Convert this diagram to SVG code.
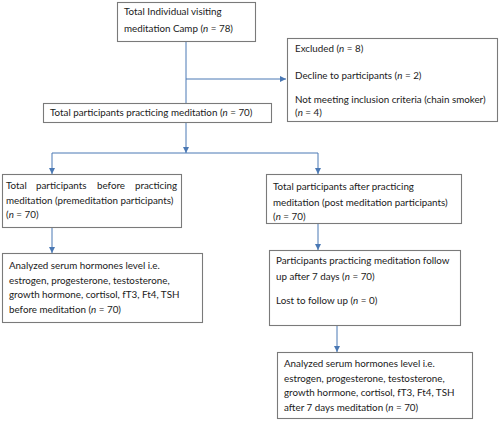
<svg xmlns="http://www.w3.org/2000/svg" width="500" height="421" viewBox="0 0 500 421">
<defs>
<marker id="ah" viewBox="0 0 6 6" refX="6" refY="3" markerWidth="6" markerHeight="6" markerUnits="userSpaceOnUse" orient="auto">
<path d="M0,0 L6,3 L0,6 z" fill="#4a78b4"/>
</marker>
<style>
.box{fill:#fff;stroke:#7a7a7a;stroke-width:1.1}
.t{font-family:Lato,"Liberation Sans",Arial,sans-serif;font-size:9.8px;fill:#1a1a1a}
.c{fill:none;stroke:#4a78b4;stroke-width:1}
.a{marker-end:url(#ah)}
</style>
</defs>
<rect width="500" height="421" fill="#fff"/>
<g id="connectors">
<line class="c" x1="186" y1="41" x2="186" y2="103"/>
<line class="c a" x1="186" y1="79" x2="286" y2="79"/>
<line class="c a" x1="186" y1="122" x2="186" y2="153"/>
<line class="c" x1="52" y1="153" x2="318" y2="153"/>
<line class="c a" x1="52" y1="153" x2="52" y2="174"/>
<line class="c a" x1="318" y1="153" x2="318" y2="174"/>
<line class="c a" x1="52" y1="227" x2="52" y2="253"/>
<line class="c a" x1="318" y1="223" x2="318" y2="250"/>
<line class="c a" x1="337" y1="325" x2="337" y2="352"/>
</g>
<g id="n1">
<rect class="box" x="117.5" y="2.5" width="138" height="39"/>
<text class="t" x="124" y="15">Total Individual visiting</text>
<text class="t" x="124" y="32">meditation Camp (<tspan font-style="italic">n</tspan> = 78)</text>
</g>
<g id="n_excluded">
<rect class="box" x="287.5" y="38.5" width="210" height="83"/>
<text class="t" x="295" y="51.5">Excluded (<tspan font-style="italic">n</tspan> = 8)</text>
<text class="t" x="295" y="78.5">Decline to participants (<tspan font-style="italic">n</tspan> = 2)</text>
<text class="t" x="295" y="102.5">Not meeting inclusion criteria (chain smoker)</text>
<text class="t" x="295" y="115.5">(<tspan font-style="italic">n</tspan> = 4)</text>
</g>
<g id="n2">
<rect class="box" x="43.5" y="103.5" width="228" height="19"/>
<text class="t" x="50" y="116">Total participants practicing meditation (<tspan font-style="italic">n</tspan> = 70)</text>
</g>
<g id="n3">
<rect class="box" x="2.5" y="174.5" width="179" height="53"/>
<text class="t" y="188.5"><tspan x="6">Total</tspan><tspan x="36">participants</tspan><tspan x="97">before</tspan><tspan x="135">practicing</tspan></text>
<text class="t" x="6" y="203.5">meditation (premeditation participants)</text>
<text class="t" x="6" y="217.5">(<tspan font-style="italic">n</tspan> = 70)</text>
</g>
<g id="n4">
<rect class="box" x="266.5" y="174.5" width="195" height="49"/>
<text class="t" x="273" y="189.5">Total participants after practicing</text>
<text class="t" x="273" y="205.5">meditation (post meditation participants)</text>
<text class="t" x="273" y="219.5">(<tspan font-style="italic">n</tspan> = 70)</text>
</g>
<g id="n5">
<rect class="box" x="2.5" y="253.5" width="200" height="69"/>
<text class="t" x="9" y="268.5">Analyzed serum hormones level i.e.</text>
<text class="t" x="9" y="283.5">estrogen, progesterone, testosterone,</text>
<text class="t" x="9" y="297.5">growth hormone, cortisol, fT3, Ft4, TSH</text>
<text class="t" x="9" y="312.5">before meditation (<tspan font-style="italic">n</tspan> = 70)</text>
</g>
<g id="n6">
<rect class="box" x="269.5" y="250.5" width="191" height="75"/>
<text class="t" x="276" y="263.5">Participants practicing meditation follow</text>
<text class="t" x="276" y="279.5">up after 7 days (<tspan font-style="italic">n</tspan> = 70)</text>
<text class="t" x="276" y="303.5">Lost to follow up (<tspan font-style="italic">n</tspan> = 0)</text>
</g>
<g id="n7">
<rect class="box" x="277.5" y="352.5" width="195" height="66"/>
<text class="t" x="284" y="366.5">Analyzed serum hormones level i.e.</text>
<text class="t" x="284" y="381.5">estrogen, progesterone, testosterone,</text>
<text class="t" x="284" y="395.5">growth hormone, cortisol, fT3, Ft4, TSH</text>
<text class="t" x="284" y="410.5">after 7 days meditation (<tspan font-style="italic">n</tspan> = 70)</text>
</g>
</svg>
